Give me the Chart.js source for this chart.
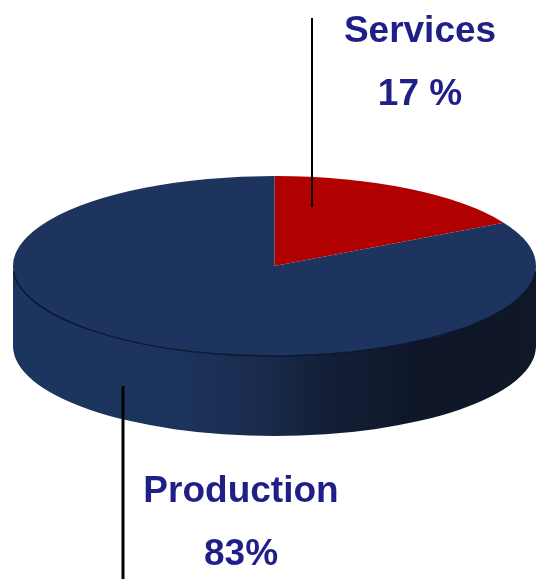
<!DOCTYPE html>
<html>
<head>
<meta charset="utf-8">
<style>
  html, body { margin: 0; padding: 0; background: #fff; }
  #wrap { position: relative; width: 539px; height: 579px; overflow: hidden; }
</style>
<script src="https://cdn.jsdelivr.net/npm/chart.js@4"></script>
</head>
<body>
<div id="wrap"><canvas id="pie" width="539" height="579"></canvas></div>
<script>
const categories = ["Services", "Production"];
const shares = [17, 83];
const shareLabels = ["17 %", "83%"];
const sliceColors = ["#B00000", "#1C345E"];

/* ---------- tilt of the disc ---------- */
const discCenterY = 266;
const discSquash = 90 / 261.5;
const wallDepth = 80;

const textColor = "#1F1F87";
const labelFont = "bold 37px 'Liberation Sans', Arial, sans-serif";

// where each caption sits: [x, name baseline, value baseline]
const captionSpots = [
  [420, 42, 105],
  [241, 502, 565]
];
// leader lines: [x, top, bottom, width]
const leaders = [
  [312, 18, 207, 2],
  [123, 386, 579, 3]
];

/* ---------- side wall + squashed disc ---------- */
const tiltPlugin = {
  id: "tilt",
  beforeDatasetsDraw(chart) {
    const ctx = chart.ctx;
    const arc = chart.getDatasetMeta(0).data[0];
    const r = arc.outerRadius;
    const ry = r * discSquash;
    const x = arc.x;

    const wall = ctx.createLinearGradient(x - r, 0, x + r, 0);
    wall.addColorStop(0, "#1C355F");
    wall.addColorStop(0.3, "#1C345D");
    wall.addColorStop(0.45, "#1A2D50");
    wall.addColorStop(0.6, "#141F38");
    wall.addColorStop(0.78, "#0E1628");
    wall.addColorStop(1, "#0F1729");

    ctx.save();
    ctx.beginPath();
    ctx.ellipse(x, discCenterY, r, ry, 0, Math.PI, 0, true);
    ctx.lineTo(x + r, discCenterY + wallDepth);
    ctx.ellipse(x, discCenterY + wallDepth, r, ry, 0, 0, Math.PI);
    ctx.closePath();
    ctx.fillStyle = wall;
    ctx.fill();
    ctx.restore();

    // the arcs are drawn by the library, flattened around the disc centre
    ctx.save();
    ctx.translate(0, discCenterY);
    ctx.scale(1, discSquash);
    ctx.translate(0, -arc.y);
  },
  afterDatasetsDraw(chart) {
    const ctx = chart.ctx;
    ctx.restore();

    const arc = chart.getDatasetMeta(0).data[0];
    const r = arc.outerRadius;

    // dark rim along the front edge of the top face
    ctx.save();
    ctx.beginPath();
    ctx.ellipse(arc.x, discCenterY, r, r * discSquash, 0, 0.06, Math.PI - 0.06);
    ctx.strokeStyle = "#0C1830";
    ctx.lineWidth = 1.5;
    ctx.stroke();
    ctx.restore();

    ctx.save();
    ctx.strokeStyle = "#000";
    leaders.forEach(([lx, top, bottom, w]) => {
      ctx.beginPath();
      ctx.lineWidth = w;
      ctx.moveTo(lx, top);
      ctx.lineTo(lx, bottom);
      ctx.stroke();
    });

    ctx.fillStyle = textColor;
    ctx.font = labelFont;
    ctx.textAlign = "center";
    ctx.textBaseline = "alphabetic";
    categories.forEach((name, i) => {
      const [tx, nameY, valueY] = captionSpots[i];
      ctx.fillText(name, tx, nameY);
      ctx.fillText(shareLabels[i], tx, valueY);
    });
    ctx.restore();
  }
};

new Chart(document.getElementById("pie"), {
  type: "pie",
  data: {
    labels: categories,
    datasets: [{
      data: shares,
      backgroundColor: sliceColors,
      borderWidth: 0
    }]
  },
  options: {
    responsive: false,
    animation: false,
    layout: { padding: { left: 13, right: 3, top: 27, bottom: 28 } },
    plugins: {
      legend: { display: false },
      tooltip: { enabled: false }
    }
  },
  plugins: [tiltPlugin]
});
</script>
</body>
</html>
